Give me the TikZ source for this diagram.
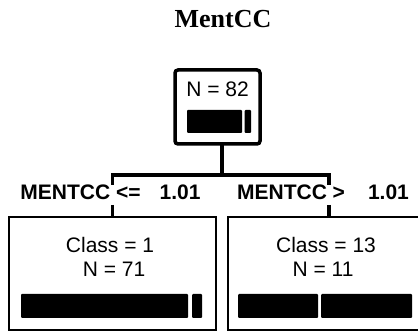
\documentclass[tikz,border=0pt]{standalone}
\usepackage{fontspec}
\setmainfont{Liberation Serif}
\setsansfont{Liberation Sans}
\begin{document}
\begin{tikzpicture}[x=1pt,y=-1pt,
  every node/.style={inner sep=0pt, outer sep=0pt},
  rootbox/.style={draw, line width=3.5pt, rounded corners=3pt,
                  minimum width=85pt, minimum height=74pt},
  leafbox/.style={draw, line width=2pt, minimum height=113pt},
  edge/.style={line width=3.5pt},
  bar/.style={fill=black, rounded corners=1pt},
  info/.style={font=\sffamily\fontsize{21}{25}\selectfont, anchor=base},
  split/.style={font=\sffamily\bfseries\fontsize{21}{25}\selectfont,
                text height=15pt, text depth=5pt},
  heading/.style={font=\rmfamily\bfseries\fontsize{26}{31}\selectfont, anchor=base}]
\useasboundingbox (0,0) rectangle (418,331);

% title
\node[heading] (title) at (223,27.5) {MentCC};

% root node
\node[rootbox] (root) at (217.5,107) {};
\node[info] (rootn) at (217.5,97) {N = 82};
\fill[bar] (187,110) rectangle (242,133);
\fill[bar] (244.5,110) rectangle (251,133);

% leaf nodes
\node[leafbox, minimum width=207pt] (c1) at (112.5,273.5) {};
\node[leafbox, minimum width=202pt] (c2) at (329,273.5) {};

\node[info] (c1class) at (110,253) {Class = 1};
\node[info] (c1n) at (114,277) {N = 71};
\fill[bar] (21,294) rectangle (188,318);
\fill[bar] (192,294) rectangle (202,318);

\node[info] (c2class) at (326,253) {Class = 13};
\node[info] (c2n) at (323,277) {N = 11};
\fill[bar] (238,294) rectangle (318,318);
\fill[bar] (321,294) rectangle (412,318);

% split labels
\node[split] (l1) at (110.5,195) {MENTCC <=\hspace{19pt}1.01};
\node[split] (l2) at (323,195) {MENTCC >\hspace{23pt}1.01};

% connectors
\draw[edge] ([xshift=4.5pt]root.south) -- ++(0,31) coordinate (bus);
\draw[edge] (c1.north |- l1.north) -- (c1.north |- bus)
            -- (c2.north |- bus) -- (c2.north |- l2.north);
\draw[edge] (l1.south -| c1.north) -- (c1.north);
\draw[edge] (l2.south -| c2.north) -- (c2.north);
\end{tikzpicture}
\end{document}
